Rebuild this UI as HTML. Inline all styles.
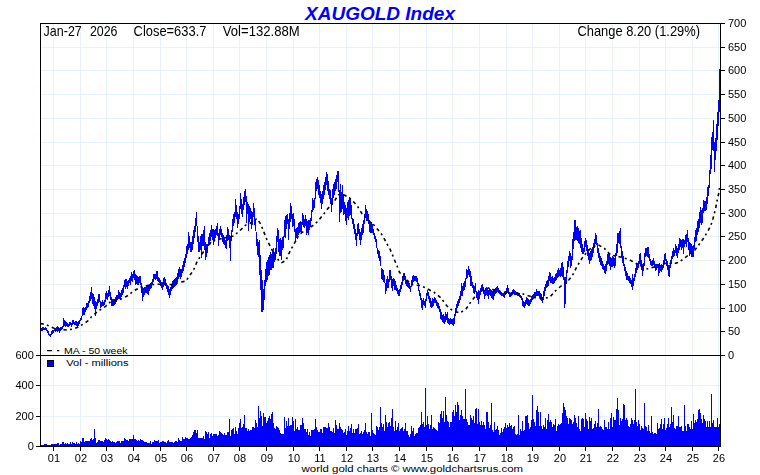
<!DOCTYPE html>
<html><head><meta charset="utf-8"><style>
html,body{margin:0;padding:0;background:#fff;}
body{width:760px;height:475px;overflow:hidden;position:relative;font-family:"Liberation Sans",sans-serif;}
svg{position:absolute;left:0;top:0;}
.ax{font-size:11px;fill:#000;font-family:"Liberation Sans",sans-serif;}
.hd{font-size:14.2px;fill:#000;font-family:"Liberation Sans",sans-serif;}
.ft{font-size:9.6px;fill:#000;font-family:"Liberation Sans",sans-serif;}
.lg{font-size:9.2px;fill:#000;font-family:"Liberation Sans",sans-serif;}
</style></head><body>
<svg width="760" height="475" viewBox="0 0 760 475">
<text x="380" y="19.6" text-anchor="middle" style="font-size:19px;font-weight:bold;font-style:italic;fill:#0000ff;font-family:'Liberation Sans',sans-serif">XAUGOLD Index</text>
<path d="M53.5 23V446M80.5 23V446M106.5 23V446M133.5 23V446M160.5 23V446M186.5 23V446M213.5 23V446M239.5 23V446M266.5 23V446M293.5 23V446M319.5 23V446M346.5 23V446M372.5 23V446M399.5 23V446M426.5 23V446M452.5 23V446M479.5 23V446M506.5 23V446M532.5 23V446M559.5 23V446M585.5 23V446M612.5 23V446M639.5 23V446M665.5 23V446M692.5 23V446M718.5 23V446M40 331.5H720M40 308.5H720M40 284.5H720M40 260.5H720M40 236.5H720M40 213.5H720M40 189.5H720M40 165.5H720M40 142.5H720M40 118.5H720M40 94.5H720M40 70.5H720M40 47.5H720M40 416.5H720M40 385.5H720" stroke="#e7f3f9" stroke-width="1" fill="none" shape-rendering="crispEdges"/>
<path d="M41 445h1V446h-1ZM42 445h1V446h-1ZM43 445h1V446h-1ZM44 444h1V446h-1ZM45 444h1V446h-1ZM46 444h1V446h-1ZM47 445h1V446h-1ZM48 445h1V446h-1ZM49 445h1V446h-1ZM50 445h1V446h-1ZM51 444h1V446h-1ZM52 444h1V446h-1ZM53 444h1V446h-1ZM54 444h1V446h-1ZM55 444h1V446h-1ZM56 444h1V446h-1ZM57 443h1V446h-1ZM58 443h1V446h-1ZM59 445h1V446h-1ZM60 444h1V446h-1ZM61 444h1V446h-1ZM62 442h1V446h-1ZM63 442h1V446h-1ZM64 444h1V446h-1ZM65 443h1V446h-1ZM66 444h1V446h-1ZM67 443h1V446h-1ZM68 444h1V446h-1ZM69 444h1V446h-1ZM70 442h1V446h-1ZM71 444h1V446h-1ZM72 442h1V446h-1ZM73 443h1V446h-1ZM74 443h1V446h-1ZM75 444h1V446h-1ZM76 442h1V446h-1ZM77 444h1V446h-1ZM78 443h1V446h-1ZM79 444h1V446h-1ZM80 441h1V446h-1ZM81 442h1V446h-1ZM82 438h1V446h-1ZM83 438h1V446h-1ZM84 442h1V446h-1ZM85 441h1V446h-1ZM86 441h1V446h-1ZM87 441h1V446h-1ZM88 441h1V446h-1ZM89 441h1V446h-1ZM90 439h1V446h-1ZM91 438h1V446h-1ZM92 440h1V446h-1ZM93 439h1V446h-1ZM94 429h1V446h-1ZM95 438h1V446h-1ZM96 443h1V446h-1ZM97 442h1V446h-1ZM98 440h1V446h-1ZM99 440h1V446h-1ZM100 441h1V446h-1ZM101 441h1V446h-1ZM102 441h1V446h-1ZM103 442h1V446h-1ZM104 440h1V446h-1ZM105 438h1V446h-1ZM106 439h1V446h-1ZM107 440h1V446h-1ZM108 439h1V446h-1ZM109 440h1V446h-1ZM110 441h1V446h-1ZM111 442h1V446h-1ZM112 441h1V446h-1ZM113 442h1V446h-1ZM114 442h1V446h-1ZM115 443h1V446h-1ZM116 442h1V446h-1ZM117 441h1V446h-1ZM118 441h1V446h-1ZM119 441h1V446h-1ZM120 443h1V446h-1ZM121 441h1V446h-1ZM122 441h1V446h-1ZM123 441h1V446h-1ZM124 438h1V446h-1ZM125 439h1V446h-1ZM126 440h1V446h-1ZM127 440h1V446h-1ZM128 441h1V446h-1ZM129 439h1V446h-1ZM130 439h1V446h-1ZM131 439h1V446h-1ZM132 439h1V446h-1ZM133 435h1V446h-1ZM134 439h1V446h-1ZM135 439h1V446h-1ZM136 440h1V446h-1ZM137 441h1V446h-1ZM138 440h1V446h-1ZM139 441h1V446h-1ZM140 439h1V446h-1ZM141 440h1V446h-1ZM142 440h1V446h-1ZM143 441h1V446h-1ZM144 442h1V446h-1ZM145 442h1V446h-1ZM146 442h1V446h-1ZM147 443h1V446h-1ZM148 443h1V446h-1ZM149 443h1V446h-1ZM150 441h1V446h-1ZM151 444h1V446h-1ZM152 442h1V446h-1ZM153 442h1V446h-1ZM154 440h1V446h-1ZM155 441h1V446h-1ZM156 441h1V446h-1ZM157 441h1V446h-1ZM158 440h1V446h-1ZM159 443h1V446h-1ZM160 442h1V446h-1ZM161 442h1V446h-1ZM162 441h1V446h-1ZM163 441h1V446h-1ZM164 442h1V446h-1ZM165 442h1V446h-1ZM166 443h1V446h-1ZM167 441h1V446h-1ZM168 440h1V446h-1ZM169 442h1V446h-1ZM170 442h1V446h-1ZM171 442h1V446h-1ZM172 442h1V446h-1ZM173 443h1V446h-1ZM174 442h1V446h-1ZM175 441h1V446h-1ZM176 441h1V446h-1ZM177 442h1V446h-1ZM178 438h1V446h-1ZM179 440h1V446h-1ZM180 441h1V446h-1ZM181 441h1V446h-1ZM182 437h1V446h-1ZM183 439h1V446h-1ZM184 439h1V446h-1ZM185 437h1V446h-1ZM186 438h1V446h-1ZM187 438h1V446h-1ZM188 439h1V446h-1ZM189 439h1V446h-1ZM190 438h1V446h-1ZM191 437h1V446h-1ZM192 435h1V446h-1ZM193 432h1V446h-1ZM194 430h1V446h-1ZM195 430h1V446h-1ZM196 433h1V446h-1ZM197 430h1V446h-1ZM198 438h1V446h-1ZM199 438h1V446h-1ZM200 438h1V446h-1ZM201 438h1V446h-1ZM202 438h1V446h-1ZM203 436h1V446h-1ZM204 439h1V446h-1ZM205 431h1V446h-1ZM206 432h1V446h-1ZM207 434h1V446h-1ZM208 432h1V446h-1ZM209 438h1V446h-1ZM210 434h1V446h-1ZM211 433h1V446h-1ZM212 436h1V446h-1ZM213 434h1V446h-1ZM214 434h1V446h-1ZM215 434h1V446h-1ZM216 434h1V446h-1ZM217 436h1V446h-1ZM218 435h1V446h-1ZM219 431h1V446h-1ZM220 432h1V446h-1ZM221 433h1V446h-1ZM222 434h1V446h-1ZM223 435h1V446h-1ZM224 433h1V446h-1ZM225 435h1V446h-1ZM226 435h1V446h-1ZM227 432h1V446h-1ZM228 432h1V446h-1ZM229 419h1V446h-1ZM230 436h1V446h-1ZM231 430h1V446h-1ZM232 429h1V446h-1ZM233 428h1V446h-1ZM234 434h1V446h-1ZM235 427h1V446h-1ZM236 431h1V446h-1ZM237 434h1V446h-1ZM238 428h1V446h-1ZM239 423h1V446h-1ZM240 419h1V446h-1ZM241 428h1V446h-1ZM242 427h1V446h-1ZM243 424h1V446h-1ZM244 415h1V446h-1ZM245 428h1V446h-1ZM246 428h1V446h-1ZM247 431h1V446h-1ZM248 429h1V446h-1ZM249 431h1V446h-1ZM250 430h1V446h-1ZM251 430h1V446h-1ZM252 427h1V446h-1ZM253 427h1V446h-1ZM254 428h1V446h-1ZM255 420h1V446h-1ZM256 423h1V446h-1ZM257 427h1V446h-1ZM258 406h1V446h-1ZM259 418h1V446h-1ZM260 411h1V446h-1ZM261 416h1V446h-1ZM262 426h1V446h-1ZM263 413h1V446h-1ZM264 417h1V446h-1ZM265 417h1V446h-1ZM266 423h1V446h-1ZM267 421h1V446h-1ZM268 418h1V446h-1ZM269 416h1V446h-1ZM270 419h1V446h-1ZM271 414h1V446h-1ZM272 412h1V446h-1ZM273 423h1V446h-1ZM274 428h1V446h-1ZM275 429h1V446h-1ZM276 426h1V446h-1ZM277 427h1V446h-1ZM278 428h1V446h-1ZM279 430h1V446h-1ZM280 433h1V446h-1ZM281 434h1V446h-1ZM282 434h1V446h-1ZM283 434h1V446h-1ZM284 417h1V446h-1ZM285 428h1V446h-1ZM286 421h1V446h-1ZM287 426h1V446h-1ZM288 418h1V446h-1ZM289 426h1V446h-1ZM290 425h1V446h-1ZM291 425h1V446h-1ZM292 417h1V446h-1ZM293 421h1V446h-1ZM294 431h1V446h-1ZM295 419h1V446h-1ZM296 429h1V446h-1ZM297 427h1V446h-1ZM298 430h1V446h-1ZM299 430h1V446h-1ZM300 425h1V446h-1ZM301 425h1V446h-1ZM302 418h1V446h-1ZM303 423h1V446h-1ZM304 429h1V446h-1ZM305 429h1V446h-1ZM306 432h1V446h-1ZM307 429h1V446h-1ZM308 435h1V446h-1ZM309 432h1V446h-1ZM310 436h1V446h-1ZM311 430h1V446h-1ZM312 430h1V446h-1ZM313 430h1V446h-1ZM314 429h1V446h-1ZM315 419h1V446h-1ZM316 427h1V446h-1ZM317 430h1V446h-1ZM318 432h1V446h-1ZM319 432h1V446h-1ZM320 429h1V446h-1ZM321 429h1V446h-1ZM322 433h1V446h-1ZM323 427h1V446h-1ZM324 427h1V446h-1ZM325 427h1V446h-1ZM326 428h1V446h-1ZM327 428h1V446h-1ZM328 423h1V446h-1ZM329 427h1V446h-1ZM330 431h1V446h-1ZM331 431h1V446h-1ZM332 432h1V446h-1ZM333 428h1V446h-1ZM334 433h1V446h-1ZM335 420h1V446h-1ZM336 425h1V446h-1ZM337 429h1V446h-1ZM338 429h1V446h-1ZM339 423h1V446h-1ZM340 427h1V446h-1ZM341 429h1V446h-1ZM342 430h1V446h-1ZM343 433h1V446h-1ZM344 432h1V446h-1ZM345 429h1V446h-1ZM346 435h1V446h-1ZM347 431h1V446h-1ZM348 426h1V446h-1ZM349 431h1V446h-1ZM350 428h1V446h-1ZM351 424h1V446h-1ZM352 433h1V446h-1ZM353 429h1V446h-1ZM354 433h1V446h-1ZM355 429h1V446h-1ZM356 429h1V446h-1ZM357 428h1V446h-1ZM358 424h1V446h-1ZM359 434h1V446h-1ZM360 433h1V446h-1ZM361 431h1V446h-1ZM362 434h1V446h-1ZM363 432h1V446h-1ZM364 430h1V446h-1ZM365 423h1V446h-1ZM366 432h1V446h-1ZM367 434h1V446h-1ZM368 432h1V446h-1ZM369 432h1V446h-1ZM370 436h1V446h-1ZM371 413h1V446h-1ZM372 430h1V446h-1ZM373 433h1V446h-1ZM374 434h1V446h-1ZM375 435h1V446h-1ZM376 426h1V446h-1ZM377 427h1V446h-1ZM378 430h1V446h-1ZM379 427h1V446h-1ZM380 407h1V446h-1ZM381 423h1V446h-1ZM382 427h1V446h-1ZM383 424h1V446h-1ZM384 431h1V446h-1ZM385 415h1V446h-1ZM386 422h1V446h-1ZM387 427h1V446h-1ZM388 423h1V446h-1ZM389 422h1V446h-1ZM390 426h1V446h-1ZM391 418h1V446h-1ZM392 409h1V446h-1ZM393 427h1V446h-1ZM394 431h1V446h-1ZM395 421h1V446h-1ZM396 430h1V446h-1ZM397 427h1V446h-1ZM398 423h1V446h-1ZM399 431h1V446h-1ZM400 429h1V446h-1ZM401 428h1V446h-1ZM402 427h1V446h-1ZM403 431h1V446h-1ZM404 429h1V446h-1ZM405 423h1V446h-1ZM406 431h1V446h-1ZM407 431h1V446h-1ZM408 435h1V446h-1ZM409 437h1V446h-1ZM410 434h1V446h-1ZM411 426h1V446h-1ZM412 431h1V446h-1ZM413 428h1V446h-1ZM414 436h1V446h-1ZM415 434h1V446h-1ZM416 433h1V446h-1ZM417 433h1V446h-1ZM418 428h1V446h-1ZM419 427h1V446h-1ZM420 425h1V446h-1ZM421 412h1V446h-1ZM422 424h1V446h-1ZM423 422h1V446h-1ZM424 427h1V446h-1ZM425 388h1V446h-1ZM426 425h1V446h-1ZM427 416h1V446h-1ZM428 424h1V446h-1ZM429 429h1V446h-1ZM430 425h1V446h-1ZM431 415h1V446h-1ZM432 429h1V446h-1ZM433 427h1V446h-1ZM434 428h1V446h-1ZM435 429h1V446h-1ZM436 430h1V446h-1ZM437 431h1V446h-1ZM438 422h1V446h-1ZM439 423h1V446h-1ZM440 414h1V446h-1ZM441 411h1V446h-1ZM442 418h1V446h-1ZM443 411h1V446h-1ZM444 422h1V446h-1ZM445 397h1V446h-1ZM446 415h1V446h-1ZM447 421h1V446h-1ZM448 422h1V446h-1ZM449 427h1V446h-1ZM450 422h1V446h-1ZM451 422h1V446h-1ZM452 412h1V446h-1ZM453 410h1V446h-1ZM454 416h1V446h-1ZM455 405h1V446h-1ZM456 412h1V446h-1ZM457 402h1V446h-1ZM458 405h1V446h-1ZM459 420h1V446h-1ZM460 415h1V446h-1ZM461 410h1V446h-1ZM462 416h1V446h-1ZM463 419h1V446h-1ZM464 419h1V446h-1ZM465 389h1V446h-1ZM466 419h1V446h-1ZM467 422h1V446h-1ZM468 425h1V446h-1ZM469 425h1V446h-1ZM470 415h1V446h-1ZM471 418h1V446h-1ZM472 420h1V446h-1ZM473 416h1V446h-1ZM474 423h1V446h-1ZM475 409h1V446h-1ZM476 408h1V446h-1ZM477 424h1V446h-1ZM478 409h1V446h-1ZM479 422h1V446h-1ZM480 425h1V446h-1ZM481 421h1V446h-1ZM482 425h1V446h-1ZM483 422h1V446h-1ZM484 425h1V446h-1ZM485 429h1V446h-1ZM486 412h1V446h-1ZM487 412h1V446h-1ZM488 422h1V446h-1ZM489 428h1V446h-1ZM490 425h1V446h-1ZM491 403h1V446h-1ZM492 430h1V446h-1ZM493 432h1V446h-1ZM494 422h1V446h-1ZM495 430h1V446h-1ZM496 429h1V446h-1ZM497 426h1V446h-1ZM498 430h1V446h-1ZM499 435h1V446h-1ZM500 433h1V446h-1ZM501 428h1V446h-1ZM502 432h1V446h-1ZM503 429h1V446h-1ZM504 427h1V446h-1ZM505 423h1V446h-1ZM506 428h1V446h-1ZM507 425h1V446h-1ZM508 427h1V446h-1ZM509 423h1V446h-1ZM510 426h1V446h-1ZM511 425h1V446h-1ZM512 429h1V446h-1ZM513 427h1V446h-1ZM514 426h1V446h-1ZM515 434h1V446h-1ZM516 435h1V446h-1ZM517 434h1V446h-1ZM518 415h1V446h-1ZM519 435h1V446h-1ZM520 429h1V446h-1ZM521 431h1V446h-1ZM522 421h1V446h-1ZM523 431h1V446h-1ZM524 430h1V446h-1ZM525 416h1V446h-1ZM526 416h1V446h-1ZM527 415h1V446h-1ZM528 423h1V446h-1ZM529 429h1V446h-1ZM530 427h1V446h-1ZM531 420h1V446h-1ZM532 395h1V446h-1ZM533 419h1V446h-1ZM534 422h1V446h-1ZM535 426h1V446h-1ZM536 410h1V446h-1ZM537 406h1V446h-1ZM538 412h1V446h-1ZM539 426h1V446h-1ZM540 412h1V446h-1ZM541 426h1V446h-1ZM542 429h1V446h-1ZM543 425h1V446h-1ZM544 427h1V446h-1ZM545 418h1V446h-1ZM546 429h1V446h-1ZM547 420h1V446h-1ZM548 414h1V446h-1ZM549 422h1V446h-1ZM550 420h1V446h-1ZM551 422h1V446h-1ZM552 427h1V446h-1ZM553 424h1V446h-1ZM554 425h1V446h-1ZM555 419h1V446h-1ZM556 431h1V446h-1ZM557 426h1V446h-1ZM558 424h1V446h-1ZM559 425h1V446h-1ZM560 424h1V446h-1ZM561 423h1V446h-1ZM562 413h1V446h-1ZM563 403h1V446h-1ZM564 407h1V446h-1ZM565 410h1V446h-1ZM566 416h1V446h-1ZM567 418h1V446h-1ZM568 424h1V446h-1ZM569 418h1V446h-1ZM570 419h1V446h-1ZM571 420h1V446h-1ZM572 424h1V446h-1ZM573 422h1V446h-1ZM574 415h1V446h-1ZM575 418h1V446h-1ZM576 423h1V446h-1ZM577 427h1V446h-1ZM578 416h1V446h-1ZM579 429h1V446h-1ZM580 431h1V446h-1ZM581 419h1V446h-1ZM582 418h1V446h-1ZM583 419h1V446h-1ZM584 427h1V446h-1ZM585 413h1V446h-1ZM586 419h1V446h-1ZM587 421h1V446h-1ZM588 429h1V446h-1ZM589 417h1V446h-1ZM590 421h1V446h-1ZM591 418h1V446h-1ZM592 429h1V446h-1ZM593 428h1V446h-1ZM594 424h1V446h-1ZM595 421h1V446h-1ZM596 427h1V446h-1ZM597 423h1V446h-1ZM598 409h1V446h-1ZM599 427h1V446h-1ZM600 426h1V446h-1ZM601 427h1V446h-1ZM602 429h1V446h-1ZM603 430h1V446h-1ZM604 420h1V446h-1ZM605 427h1V446h-1ZM606 427h1V446h-1ZM607 429h1V446h-1ZM608 422h1V446h-1ZM609 429h1V446h-1ZM610 418h1V446h-1ZM611 413h1V446h-1ZM612 427h1V446h-1ZM613 417h1V446h-1ZM614 420h1V446h-1ZM615 420h1V446h-1ZM616 409h1V446h-1ZM617 398h1V446h-1ZM618 410h1V446h-1ZM619 425h1V446h-1ZM620 418h1V446h-1ZM621 421h1V446h-1ZM622 419h1V446h-1ZM623 404h1V446h-1ZM624 405h1V446h-1ZM625 420h1V446h-1ZM626 418h1V446h-1ZM627 420h1V446h-1ZM628 426h1V446h-1ZM629 427h1V446h-1ZM630 424h1V446h-1ZM631 418h1V446h-1ZM632 420h1V446h-1ZM633 424h1V446h-1ZM634 420h1V446h-1ZM635 389h1V446h-1ZM636 422h1V446h-1ZM637 426h1V446h-1ZM638 420h1V446h-1ZM639 424h1V446h-1ZM640 430h1V446h-1ZM641 426h1V446h-1ZM642 428h1V446h-1ZM643 429h1V446h-1ZM644 403h1V446h-1ZM645 426h1V446h-1ZM646 427h1V446h-1ZM647 431h1V446h-1ZM648 425h1V446h-1ZM649 431h1V446h-1ZM650 433h1V446h-1ZM651 416h1V446h-1ZM652 432h1V446h-1ZM653 434h1V446h-1ZM654 433h1V446h-1ZM655 433h1V446h-1ZM656 434h1V446h-1ZM657 423h1V446h-1ZM658 429h1V446h-1ZM659 428h1V446h-1ZM660 424h1V446h-1ZM661 419h1V446h-1ZM662 429h1V446h-1ZM663 424h1V446h-1ZM664 418h1V446h-1ZM665 430h1V446h-1ZM666 428h1V446h-1ZM667 424h1V446h-1ZM668 418h1V446h-1ZM669 427h1V446h-1ZM670 424h1V446h-1ZM671 407h1V446h-1ZM672 422h1V446h-1ZM673 415h1V446h-1ZM674 428h1V446h-1ZM675 429h1V446h-1ZM676 426h1V446h-1ZM677 426h1V446h-1ZM678 416h1V446h-1ZM679 427h1V446h-1ZM680 427h1V446h-1ZM681 426h1V446h-1ZM682 431h1V446h-1ZM683 431h1V446h-1ZM684 405h1V446h-1ZM685 426h1V446h-1ZM686 431h1V446h-1ZM687 424h1V446h-1ZM688 424h1V446h-1ZM689 427h1V446h-1ZM690 429h1V446h-1ZM691 421h1V446h-1ZM692 429h1V446h-1ZM693 414h1V446h-1ZM694 423h1V446h-1ZM695 420h1V446h-1ZM696 422h1V446h-1ZM697 419h1V446h-1ZM698 410h1V446h-1ZM699 409h1V446h-1ZM700 413h1V446h-1ZM701 419h1V446h-1ZM702 423h1V446h-1ZM703 415h1V446h-1ZM704 419h1V446h-1ZM705 421h1V446h-1ZM706 427h1V446h-1ZM707 421h1V446h-1ZM708 427h1V446h-1ZM709 421h1V446h-1ZM710 427h1V446h-1ZM711 394h1V446h-1ZM712 423h1V446h-1ZM713 420h1V446h-1ZM714 427h1V446h-1ZM715 427h1V446h-1ZM716 427h1V446h-1ZM717 418h1V446h-1ZM718 427h1V446h-1ZM719 424h1V446h-1Z" fill="#0000ff" shape-rendering="crispEdges"/>
<path d="M41 328h1V331h-1ZM42 327h1V331h-1ZM43 327h1V330h-1ZM44 328h1V330h-1ZM45 327h1V330h-1ZM46 328h1V331h-1ZM47 330h1V333h-1ZM48 331h1V335h-1ZM49 334h1V336h-1ZM50 334h1V337h-1ZM51 331h1V335h-1ZM52 330h1V334h-1ZM53 330h1V333h-1ZM54 329h1V331h-1ZM55 328h1V332h-1ZM56 327h1V331h-1ZM57 326h1V332h-1ZM58 327h1V331h-1ZM59 328h1V333h-1ZM60 327h1V331h-1ZM61 327h1V330h-1ZM62 326h1V329h-1ZM63 318h1V327h-1ZM64 320h1V326h-1ZM65 321h1V327h-1ZM66 322h1V326h-1ZM67 323h1V327h-1ZM68 324h1V327h-1ZM69 322h1V326h-1ZM70 322h1V325h-1ZM71 323h1V327h-1ZM72 320h1V325h-1ZM73 320h1V324h-1ZM74 322h1V325h-1ZM75 321h1V325h-1ZM76 321h1V326h-1ZM77 322h1V327h-1ZM78 321h1V326h-1ZM79 320h1V324h-1ZM80 318h1V321h-1ZM81 316h1V320h-1ZM82 308h1V316h-1ZM83 307h1V315h-1ZM84 308h1V315h-1ZM85 307h1V312h-1ZM86 303h1V310h-1ZM87 303h1V308h-1ZM88 301h1V307h-1ZM89 296h1V303h-1ZM90 292h1V301h-1ZM91 287h1V299h-1ZM92 293h1V304h-1ZM93 294h1V306h-1ZM94 297h1V309h-1ZM95 301h1V316h-1ZM96 302h1V309h-1ZM97 299h1V306h-1ZM98 294h1V303h-1ZM99 294h1V302h-1ZM100 301h1V308h-1ZM101 302h1V307h-1ZM102 300h1V306h-1ZM103 302h1V306h-1ZM104 300h1V305h-1ZM105 293h1V302h-1ZM106 291h1V299h-1ZM107 293h1V300h-1ZM108 290h1V297h-1ZM109 286h1V296h-1ZM110 292h1V300h-1ZM111 297h1V306h-1ZM112 299h1V306h-1ZM113 299h1V306h-1ZM114 299h1V305h-1ZM115 297h1V304h-1ZM116 295h1V302h-1ZM117 295h1V300h-1ZM118 290h1V299h-1ZM119 292h1V299h-1ZM120 293h1V300h-1ZM121 290h1V297h-1ZM122 288h1V295h-1ZM123 285h1V293h-1ZM124 280h1V287h-1ZM125 279h1V289h-1ZM126 279h1V287h-1ZM127 281h1V289h-1ZM128 280h1V286h-1ZM129 278h1V283h-1ZM130 276h1V285h-1ZM131 272h1V281h-1ZM132 274h1V282h-1ZM133 271h1V278h-1ZM134 270h1V280h-1ZM135 274h1V285h-1ZM136 275h1V284h-1ZM137 276h1V285h-1ZM138 277h1V285h-1ZM139 276h1V283h-1ZM140 276h1V285h-1ZM141 283h1V293h-1ZM142 287h1V301h-1ZM143 288h1V297h-1ZM144 287h1V295h-1ZM145 287h1V293h-1ZM146 286h1V293h-1ZM147 285h1V294h-1ZM148 285h1V295h-1ZM149 284h1V291h-1ZM150 283h1V289h-1ZM151 282h1V288h-1ZM152 279h1V284h-1ZM153 274h1V282h-1ZM154 274h1V279h-1ZM155 274h1V280h-1ZM156 271h1V279h-1ZM157 271h1V281h-1ZM158 277h1V282h-1ZM159 278h1V283h-1ZM160 280h1V286h-1ZM161 282h1V288h-1ZM162 282h1V290h-1ZM163 278h1V287h-1ZM164 277h1V285h-1ZM165 279h1V286h-1ZM166 283h1V289h-1ZM167 285h1V292h-1ZM168 286h1V295h-1ZM169 289h1V298h-1ZM170 287h1V295h-1ZM171 285h1V291h-1ZM172 281h1V289h-1ZM173 280h1V288h-1ZM174 279h1V287h-1ZM175 278h1V286h-1ZM176 277h1V285h-1ZM177 273h1V282h-1ZM178 269h1V279h-1ZM179 267h1V277h-1ZM180 269h1V279h-1ZM181 269h1V277h-1ZM182 265h1V273h-1ZM183 261h1V271h-1ZM184 258h1V267h-1ZM185 254h1V263h-1ZM186 246h1V258h-1ZM187 244h1V254h-1ZM188 232h1V250h-1ZM189 236h1V248h-1ZM190 242h1V252h-1ZM191 242h1V252h-1ZM192 236h1V250h-1ZM193 230h1V244h-1ZM194 226h1V238h-1ZM195 218h1V232h-1ZM196 212h1V226h-1ZM197 226h1V242h-1ZM198 236h1V252h-1ZM199 242h1V252h-1ZM200 236h1V250h-1ZM201 234h1V258h-1ZM202 234h1V246h-1ZM203 230h1V246h-1ZM204 226h1V250h-1ZM205 242h1V260h-1ZM206 244h1V257h-1ZM207 244h1V253h-1ZM208 237h1V246h-1ZM209 233h1V243h-1ZM210 230h1V241h-1ZM211 225h1V237h-1ZM212 229h1V240h-1ZM213 229h1V245h-1ZM214 230h1V241h-1ZM215 229h1V238h-1ZM216 226h1V235h-1ZM217 223h1V236h-1ZM218 233h1V246h-1ZM219 229h1V240h-1ZM220 226h1V235h-1ZM221 229h1V237h-1ZM222 233h1V242h-1ZM223 235h1V244h-1ZM224 237h1V245h-1ZM225 240h1V248h-1ZM226 235h1V249h-1ZM227 227h1V241h-1ZM228 229h1V240h-1ZM229 235h1V248h-1ZM230 236h1V261h-1ZM231 230h1V241h-1ZM232 219h1V232h-1ZM233 214h1V226h-1ZM234 212h1V223h-1ZM235 199h1V217h-1ZM236 205h1V219h-1ZM237 212h1V228h-1ZM238 214h1V224h-1ZM239 206h1V219h-1ZM240 193h1V209h-1ZM241 199h1V214h-1ZM242 204h1V217h-1ZM243 197h1V210h-1ZM244 191h1V205h-1ZM245 189h1V202h-1ZM246 196h1V223h-1ZM247 202h1V214h-1ZM248 204h1V231h-1ZM249 206h1V222h-1ZM250 208h1V219h-1ZM251 211h1V229h-1ZM252 212h1V225h-1ZM253 203h1V217h-1ZM254 208h1V225h-1ZM255 219h1V231h-1ZM256 232h1V246h-1ZM257 239h1V255h-1ZM258 242h1V257h-1ZM259 240h1V275h-1ZM260 255h1V290h-1ZM261 270h1V312h-1ZM262 280h1V312h-1ZM263 289h1V310h-1ZM264 280h1V300h-1ZM265 269h1V286h-1ZM266 262h1V282h-1ZM267 260h1V280h-1ZM268 257h1V276h-1ZM269 255h1V275h-1ZM270 252h1V270h-1ZM271 254h1V270h-1ZM272 250h1V268h-1ZM273 248h1V268h-1ZM274 252h1V262h-1ZM275 248h1V260h-1ZM276 236h1V254h-1ZM277 228h1V242h-1ZM278 230h1V252h-1ZM279 239h1V256h-1ZM280 238h1V256h-1ZM281 240h1V260h-1ZM282 237h1V250h-1ZM283 236h1V248h-1ZM284 220h1V237h-1ZM285 216h1V238h-1ZM286 215h1V229h-1ZM287 214h1V224h-1ZM288 219h1V240h-1ZM289 213h1V229h-1ZM290 203h1V222h-1ZM291 206h1V219h-1ZM292 214h1V227h-1ZM293 213h1V226h-1ZM294 219h1V232h-1ZM295 229h1V242h-1ZM296 228h1V238h-1ZM297 227h1V239h-1ZM298 223h1V235h-1ZM299 222h1V233h-1ZM300 221h1V232h-1ZM301 222h1V232h-1ZM302 213h1V225h-1ZM303 215h1V227h-1ZM304 219h1V228h-1ZM305 215h1V226h-1ZM306 219h1V235h-1ZM307 221h1V233h-1ZM308 220h1V235h-1ZM309 220h1V230h-1ZM310 218h1V227h-1ZM311 210h1V221h-1ZM312 198h1V212h-1ZM313 200h1V210h-1ZM314 198h1V208h-1ZM315 182h1V199h-1ZM316 179h1V191h-1ZM317 177h1V189h-1ZM318 180h1V195h-1ZM319 185h1V198h-1ZM320 191h1V203h-1ZM321 194h1V209h-1ZM322 191h1V204h-1ZM323 185h1V199h-1ZM324 182h1V195h-1ZM325 177h1V190h-1ZM326 172h1V185h-1ZM327 174h1V191h-1ZM328 181h1V195h-1ZM329 189h1V199h-1ZM330 190h1V204h-1ZM331 198h1V212h-1ZM332 189h1V205h-1ZM333 184h1V198h-1ZM334 182h1V195h-1ZM335 179h1V191h-1ZM336 175h1V189h-1ZM337 171h1V182h-1ZM338 171h1V192h-1ZM339 190h1V222h-1ZM340 184h1V213h-1ZM341 192h1V212h-1ZM342 185h1V209h-1ZM343 194h1V215h-1ZM344 202h1V214h-1ZM345 205h1V221h-1ZM346 208h1V225h-1ZM347 202h1V218h-1ZM348 200h1V220h-1ZM349 197h1V216h-1ZM350 199h1V215h-1ZM351 205h1V219h-1ZM352 218h1V224h-1ZM353 219h1V229h-1ZM354 224h1V234h-1ZM355 229h1V240h-1ZM356 233h1V246h-1ZM357 224h1V236h-1ZM358 223h1V234h-1ZM359 229h1V240h-1ZM360 232h1V245h-1ZM361 228h1V240h-1ZM362 224h1V235h-1ZM363 220h1V233h-1ZM364 214h1V224h-1ZM365 205h1V218h-1ZM366 209h1V221h-1ZM367 211h1V221h-1ZM368 214h1V224h-1ZM369 220h1V232h-1ZM370 222h1V233h-1ZM371 222h1V233h-1ZM372 224h1V233h-1ZM373 229h1V235h-1ZM374 233h1V239h-1ZM375 236h1V242h-1ZM376 239h1V248h-1ZM377 248h1V254h-1ZM378 250h1V258h-1ZM379 251h1V261h-1ZM380 256h1V266h-1ZM381 268h1V279h-1ZM382 269h1V280h-1ZM383 270h1V282h-1ZM384 275h1V283h-1ZM385 283h1V294h-1ZM386 279h1V291h-1ZM387 276h1V288h-1ZM388 279h1V288h-1ZM389 270h1V282h-1ZM390 270h1V280h-1ZM391 276h1V288h-1ZM392 279h1V291h-1ZM393 278h1V286h-1ZM394 279h1V290h-1ZM395 281h1V290h-1ZM396 285h1V291h-1ZM397 288h1V294h-1ZM398 290h1V296h-1ZM399 289h1V296h-1ZM400 285h1V292h-1ZM401 282h1V289h-1ZM402 276h1V285h-1ZM403 273h1V281h-1ZM404 273h1V280h-1ZM405 276h1V284h-1ZM406 280h1V286h-1ZM407 281h1V287h-1ZM408 282h1V288h-1ZM409 283h1V289h-1ZM410 286h1V292h-1ZM411 280h1V287h-1ZM412 276h1V284h-1ZM413 275h1V282h-1ZM414 276h1V281h-1ZM415 276h1V281h-1ZM416 276h1V282h-1ZM417 278h1V284h-1ZM418 283h1V291h-1ZM419 290h1V296h-1ZM420 293h1V300h-1ZM421 298h1V308h-1ZM422 300h1V310h-1ZM423 298h1V305h-1ZM424 301h1V306h-1ZM425 299h1V308h-1ZM426 293h1V301h-1ZM427 290h1V296h-1ZM428 292h1V299h-1ZM429 296h1V303h-1ZM430 298h1V307h-1ZM431 301h1V308h-1ZM432 298h1V307h-1ZM433 299h1V306h-1ZM434 297h1V303h-1ZM435 298h1V303h-1ZM436 300h1V306h-1ZM437 302h1V308h-1ZM438 303h1V309h-1ZM439 306h1V312h-1ZM440 309h1V319h-1ZM441 312h1V320h-1ZM442 315h1V322h-1ZM443 314h1V323h-1ZM444 316h1V324h-1ZM445 312h1V322h-1ZM446 314h1V320h-1ZM447 312h1V323h-1ZM448 318h1V324h-1ZM449 319h1V325h-1ZM450 318h1V324h-1ZM451 319h1V324h-1ZM452 319h1V325h-1ZM453 318h1V326h-1ZM454 314h1V324h-1ZM455 308h1V316h-1ZM456 304h1V311h-1ZM457 301h1V308h-1ZM458 299h1V306h-1ZM459 296h1V303h-1ZM460 291h1V300h-1ZM461 283h1V296h-1ZM462 286h1V296h-1ZM463 283h1V291h-1ZM464 281h1V290h-1ZM465 278h1V287h-1ZM466 269h1V279h-1ZM467 270h1V278h-1ZM468 266h1V275h-1ZM469 269h1V277h-1ZM470 271h1V286h-1ZM471 276h1V286h-1ZM472 282h1V288h-1ZM473 285h1V293h-1ZM474 286h1V294h-1ZM475 283h1V292h-1ZM476 291h1V298h-1ZM477 292h1V300h-1ZM478 290h1V304h-1ZM479 291h1V299h-1ZM480 288h1V295h-1ZM481 285h1V292h-1ZM482 284h1V290h-1ZM483 287h1V294h-1ZM484 290h1V299h-1ZM485 288h1V296h-1ZM486 287h1V295h-1ZM487 288h1V296h-1ZM488 290h1V299h-1ZM489 288h1V295h-1ZM490 289h1V296h-1ZM491 290h1V298h-1ZM492 291h1V299h-1ZM493 290h1V300h-1ZM494 289h1V296h-1ZM495 288h1V294h-1ZM496 287h1V293h-1ZM497 286h1V292h-1ZM498 288h1V293h-1ZM499 290h1V294h-1ZM500 291h1V295h-1ZM501 292h1V296h-1ZM502 293h1V296h-1ZM503 293h1V297h-1ZM504 293h1V298h-1ZM505 291h1V295h-1ZM506 288h1V294h-1ZM507 285h1V293h-1ZM508 288h1V294h-1ZM509 292h1V297h-1ZM510 293h1V297h-1ZM511 292h1V296h-1ZM512 290h1V295h-1ZM513 289h1V294h-1ZM514 290h1V295h-1ZM515 291h1V295h-1ZM516 292h1V295h-1ZM517 292h1V296h-1ZM518 293h1V296h-1ZM519 293h1V297h-1ZM520 295h1V298h-1ZM521 296h1V300h-1ZM522 298h1V306h-1ZM523 301h1V307h-1ZM524 302h1V308h-1ZM525 300h1V306h-1ZM526 297h1V304h-1ZM527 298h1V305h-1ZM528 299h1V306h-1ZM529 300h1V306h-1ZM530 299h1V304h-1ZM531 296h1V302h-1ZM532 295h1V300h-1ZM533 294h1V299h-1ZM534 292h1V297h-1ZM535 292h1V298h-1ZM536 289h1V296h-1ZM537 291h1V296h-1ZM538 291h1V296h-1ZM539 291h1V297h-1ZM540 293h1V300h-1ZM541 294h1V301h-1ZM542 297h1V303h-1ZM543 291h1V300h-1ZM544 287h1V296h-1ZM545 284h1V291h-1ZM546 281h1V288h-1ZM547 280h1V287h-1ZM548 276h1V286h-1ZM549 272h1V281h-1ZM550 273h1V283h-1ZM551 277h1V283h-1ZM552 276h1V284h-1ZM553 278h1V284h-1ZM554 277h1V283h-1ZM555 274h1V281h-1ZM556 273h1V280h-1ZM557 270h1V278h-1ZM558 268h1V277h-1ZM559 270h1V276h-1ZM560 268h1V277h-1ZM561 263h1V276h-1ZM562 262h1V277h-1ZM563 267h1V280h-1ZM564 277h1V308h-1ZM565 277h1V304h-1ZM566 270h1V284h-1ZM567 261h1V273h-1ZM568 256h1V267h-1ZM569 251h1V261h-1ZM570 253h1V268h-1ZM571 256h1V266h-1ZM572 239h1V260h-1ZM573 232h1V249h-1ZM574 220h1V241h-1ZM575 220h1V240h-1ZM576 227h1V240h-1ZM577 226h1V241h-1ZM578 228h1V243h-1ZM579 231h1V244h-1ZM580 230h1V248h-1ZM581 238h1V252h-1ZM582 244h1V254h-1ZM583 248h1V254h-1ZM584 241h1V252h-1ZM585 238h1V247h-1ZM586 240h1V251h-1ZM587 245h1V256h-1ZM588 249h1V260h-1ZM589 253h1V264h-1ZM590 251h1V261h-1ZM591 249h1V260h-1ZM592 247h1V257h-1ZM593 243h1V253h-1ZM594 239h1V248h-1ZM595 233h1V244h-1ZM596 235h1V245h-1ZM597 243h1V253h-1ZM598 248h1V258h-1ZM599 253h1V262h-1ZM600 256h1V265h-1ZM601 258h1V266h-1ZM602 261h1V269h-1ZM603 264h1V270h-1ZM604 266h1V273h-1ZM605 264h1V274h-1ZM606 261h1V271h-1ZM607 254h1V265h-1ZM608 252h1V264h-1ZM609 253h1V266h-1ZM610 257h1V270h-1ZM611 258h1V267h-1ZM612 256h1V267h-1ZM613 257h1V266h-1ZM614 258h1V268h-1ZM615 253h1V266h-1ZM616 244h1V256h-1ZM617 233h1V253h-1ZM618 233h1V243h-1ZM619 231h1V244h-1ZM620 228h1V248h-1ZM621 246h1V257h-1ZM622 251h1V263h-1ZM623 256h1V266h-1ZM624 264h1V271h-1ZM625 267h1V276h-1ZM626 271h1V280h-1ZM627 273h1V280h-1ZM628 276h1V281h-1ZM629 276h1V283h-1ZM630 278h1V284h-1ZM631 280h1V287h-1ZM632 274h1V290h-1ZM633 278h1V286h-1ZM634 274h1V281h-1ZM635 268h1V277h-1ZM636 264h1V273h-1ZM637 263h1V270h-1ZM638 261h1V268h-1ZM639 254h1V264h-1ZM640 253h1V266h-1ZM641 260h1V270h-1ZM642 264h1V276h-1ZM643 263h1V271h-1ZM644 253h1V266h-1ZM645 248h1V257h-1ZM646 248h1V256h-1ZM647 247h1V257h-1ZM648 247h1V258h-1ZM649 254h1V261h-1ZM650 259h1V265h-1ZM651 261h1V266h-1ZM652 260h1V266h-1ZM653 258h1V265h-1ZM654 261h1V268h-1ZM655 264h1V271h-1ZM656 264h1V270h-1ZM657 264h1V268h-1ZM658 264h1V276h-1ZM659 263h1V273h-1ZM660 265h1V271h-1ZM661 264h1V272h-1ZM662 265h1V270h-1ZM663 260h1V268h-1ZM664 254h1V264h-1ZM665 253h1V261h-1ZM666 259h1V266h-1ZM667 261h1V270h-1ZM668 265h1V276h-1ZM669 265h1V277h-1ZM670 260h1V268h-1ZM671 256h1V264h-1ZM672 251h1V259h-1ZM673 248h1V257h-1ZM674 250h1V256h-1ZM675 244h1V253h-1ZM676 246h1V256h-1ZM677 248h1V258h-1ZM678 244h1V253h-1ZM679 238h1V250h-1ZM680 239h1V247h-1ZM681 240h1V250h-1ZM682 239h1V248h-1ZM683 239h1V254h-1ZM684 240h1V247h-1ZM685 235h1V244h-1ZM686 234h1V247h-1ZM687 230h1V242h-1ZM688 238h1V250h-1ZM689 242h1V256h-1ZM690 243h1V254h-1ZM691 244h1V257h-1ZM692 246h1V257h-1ZM693 245h1V257h-1ZM694 237h1V249h-1ZM695 230h1V242h-1ZM696 228h1V241h-1ZM697 221h1V235h-1ZM698 219h1V232h-1ZM699 212h1V228h-1ZM700 207h1V223h-1ZM701 210h1V225h-1ZM702 208h1V223h-1ZM703 200h1V213h-1ZM704 201h1V211h-1ZM705 201h1V211h-1ZM706 197h1V210h-1ZM707 187h1V204h-1ZM708 185h1V196h-1ZM709 170h1V188h-1ZM710 155h1V174h-1ZM711 137h1V169h-1ZM712 132h1V150h-1ZM713 120h1V151h-1ZM714 142h1V172h-1ZM715 138h1V160h-1ZM716 124h1V151h-1ZM717 112h1V140h-1ZM718 100h1V126h-1ZM719 69h1V112h-1Z" fill="#0000ff" shape-rendering="crispEdges"/>
<polyline points="40.5,323.6 44.7,324.0 48.5,325.7 54.0,328.3 60.0,329.6 67.0,330.0 73.5,329.0 78.5,327.0 83.4,324.0 87.8,321.0 91.3,317.0 94.6,314.2 98.8,310.6 103.4,308.1 107.5,304.7 110.6,301.6 118.5,300.2 124.0,297.7 129.3,294.8 132.7,291.4 139.0,288.0 142.8,286.1 147.2,285.6 150.1,285.1 155.9,284.2 160.8,284.2 168.5,284.6 172.0,284.5 180.0,282.2 185.8,281.2 189.8,275.3 192.8,271.3 194.8,267.4 196.7,262.4 199.7,257.5 203.7,251.5 207.6,247.6 211.7,240.7 215.3,240.6 223.7,238.0 233.5,236.0 239.4,231.2 245.3,225.3 250.6,223.0 256.8,218.5 260.8,224.2 264.8,234.5 267.1,240.1 271.0,248.0 276.7,258.3 281.3,262.9 285.8,260.6 290.4,250.4 294.9,242.4 299.0,234.6 305.0,230.6 313.9,224.9 317.6,221.5 323.5,214.4 327.5,209.0 334.5,201.0 338.2,195.0 341.5,194.3 344.7,195.2 350.0,198.4 353.8,202.1 357.8,206.8 362.2,214.0 365.0,216.8 369.0,221.0 374.2,225.3 380.5,232.7 383.6,237.3 386.5,243.1 389.3,247.5 392.1,253.8 394.4,259.8 397.0,265.8 399.5,272.3 406.0,279.5 413.0,285.0 420.3,285.5 426.0,288.0 431.4,291.0 434.0,292.3 441.0,298.0 447.0,306.0 453.0,311.0 460.0,313.0 466.0,309.0 471.5,301.0 475.0,296.6 478.3,293.4 483.0,290.0 489.0,287.8 493.3,289.8 500.0,291.3 506.8,292.7 515.0,293.3 523.2,294.0 528.5,295.8 535.3,297.8 543.0,298.0 549.3,297.7 554.7,291.5 561.0,286.0 569.0,279.8 573.0,274.4 577.2,266.0 582.4,257.7 587.0,252.0 591.0,248.0 598.0,244.6 604.6,248.6 610.6,255.1 617.0,256.2 622.0,257.5 628.0,259.0 634.0,262.3 640.0,265.5 647.6,269.0 653.0,267.3 659.0,265.5 665.7,263.2 673.7,263.7 678.4,262.5 683.5,259.0 688.0,255.5 693.2,252.0 698.0,246.0 702.7,239.5 707.4,232.0 710.8,225.7 712.7,219.6 715.5,209.0 717.2,200.0 718.6,194.0 719.5,188.0" fill="none" stroke="#000" stroke-width="1.6" stroke-dasharray="3.4 3.2 2 3.4"/>
<rect x="40.5" y="23.5" width="680" height="423" fill="none" stroke="#000" stroke-width="1" shape-rendering="crispEdges"/>
<path d="M40 355.5H720M721 355.5h4M721 331.5h4M721 308.5h4M721 284.5h4M721 260.5h4M721 236.5h4M721 213.5h4M721 189.5h4M721 165.5h4M721 142.5h4M721 118.5h4M721 94.5h4M721 70.5h4M721 47.5h4M721 23.5h4M36 446.5h4M36 416.5h4M36 385.5h4M36 355.5h4M53.5 446v5M80.5 446v5M106.5 446v5M133.5 446v5M160.5 446v5M186.5 446v5M213.5 446v5M239.5 446v5M266.5 446v5M293.5 446v5M319.5 446v5M346.5 446v5M372.5 446v5M399.5 446v5M426.5 446v5M452.5 446v5M479.5 446v5M506.5 446v5M532.5 446v5M559.5 446v5M585.5 446v5M612.5 446v5M639.5 446v5M665.5 446v5M692.5 446v5M718.5 446v5" stroke="#000" stroke-width="1" fill="none" shape-rendering="crispEdges"/>
<path d="M47 350.6h5M57 350.6h2.3" stroke="#000" stroke-width="1.2"/>
<text x="64.1" y="353.7" class="lg" textLength="63.4" lengthAdjust="spacingAndGlyphs">MA - 50 week</text>
<rect x="47.5" y="360.5" width="6" height="6" fill="#0000ff" stroke="#000" stroke-width="1" shape-rendering="crispEdges"/>
<text x="66.2" y="366.2" class="lg" textLength="62.4" lengthAdjust="spacingAndGlyphs">Vol - millions</text>
<text x="301.6" y="472" class="ft" textLength="221.5" lengthAdjust="spacingAndGlyphs">world gold charts &#169; www.goldchartsrus.com</text>
</svg>
<svg width="760" height="475" viewBox="0 0 760 475" style="will-change:transform">
<text x="728" y="359" class="ax">0</text><text x="728" y="335" class="ax">50</text><text x="728" y="312" class="ax">100</text><text x="728" y="288" class="ax">150</text><text x="728" y="264" class="ax">200</text><text x="728" y="240" class="ax">250</text><text x="728" y="217" class="ax">300</text><text x="728" y="193" class="ax">350</text><text x="728" y="169" class="ax">400</text><text x="728" y="146" class="ax">450</text><text x="728" y="122" class="ax">500</text><text x="728" y="98" class="ax">550</text><text x="728" y="74" class="ax">600</text><text x="728" y="51" class="ax">650</text><text x="728" y="27" class="ax">700</text><text x="33.8" y="450" class="ax" text-anchor="end">0</text><text x="33.8" y="420" class="ax" text-anchor="end">200</text><text x="33.8" y="389" class="ax" text-anchor="end">400</text><text x="33.8" y="359" class="ax" text-anchor="end">600</text><text x="53.9" y="462" class="ax" text-anchor="middle">01</text><text x="80.9" y="462" class="ax" text-anchor="middle">02</text><text x="106.9" y="462" class="ax" text-anchor="middle">03</text><text x="133.9" y="462" class="ax" text-anchor="middle">04</text><text x="160.9" y="462" class="ax" text-anchor="middle">05</text><text x="186.9" y="462" class="ax" text-anchor="middle">06</text><text x="213.9" y="462" class="ax" text-anchor="middle">07</text><text x="239.9" y="462" class="ax" text-anchor="middle">08</text><text x="266.9" y="462" class="ax" text-anchor="middle">09</text><text x="293.9" y="462" class="ax" text-anchor="middle">10</text><text x="319.9" y="462" class="ax" text-anchor="middle">11</text><text x="346.9" y="462" class="ax" text-anchor="middle">12</text><text x="372.9" y="462" class="ax" text-anchor="middle">13</text><text x="399.9" y="462" class="ax" text-anchor="middle">14</text><text x="426.9" y="462" class="ax" text-anchor="middle">15</text><text x="452.9" y="462" class="ax" text-anchor="middle">16</text><text x="479.9" y="462" class="ax" text-anchor="middle">17</text><text x="506.9" y="462" class="ax" text-anchor="middle">18</text><text x="532.9" y="462" class="ax" text-anchor="middle">19</text><text x="559.9" y="462" class="ax" text-anchor="middle">20</text><text x="585.9" y="462" class="ax" text-anchor="middle">21</text><text x="612.9" y="462" class="ax" text-anchor="middle">22</text><text x="639.9" y="462" class="ax" text-anchor="middle">23</text><text x="665.9" y="462" class="ax" text-anchor="middle">24</text><text x="692.9" y="462" class="ax" text-anchor="middle">25</text><text x="718.9" y="462" class="ax" text-anchor="middle">26</text>
<text x="43.6" y="35.8" class="hd" textLength="38.2" lengthAdjust="spacingAndGlyphs">Jan-27</text>
<text x="89.9" y="35.8" class="hd" textLength="27.6" lengthAdjust="spacingAndGlyphs">2026</text>
<text x="133.6" y="35.8" class="hd" textLength="72.8" lengthAdjust="spacingAndGlyphs">Close=633.7</text>
<text x="222.8" y="35.8" class="hd" textLength="76.9" lengthAdjust="spacingAndGlyphs">Vol=132.88M</text>
<text x="577.4" y="35.8" class="hd" textLength="122.6" lengthAdjust="spacingAndGlyphs">Change 8.20 (1.29%)</text>
</svg>
</body></html>
